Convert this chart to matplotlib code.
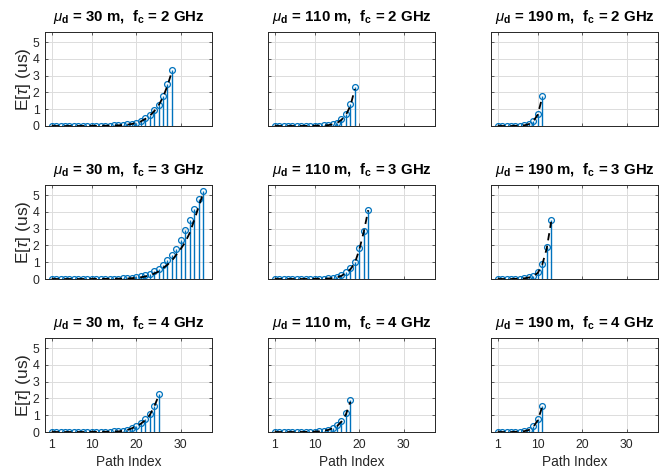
import numpy as np
import matplotlib.pyplot as plt

plt.rcParams['font.family'] = ['Liberation Sans', 'DejaVu Sans']
plt.rcParams['mathtext.fontset'] = 'custom'
plt.rcParams['mathtext.rm'] = 'Liberation Sans'
plt.rcParams['mathtext.it'] = 'Liberation Sans:italic'
plt.rcParams['mathtext.bf'] = 'Liberation Sans:bold'

distances = [30, 110, 190]   # mu_d (m), columns
freqs = [2, 3, 4]            # f_c (GHz), rows
xticks = [1, 10, 20, 30]
yticks = [0, 1, 2, 3, 4, 5]

# simulated mean delay per path (us)
sim_30_2 = [0, 0, 0, 0, 0, 0.001, 0.001, 0.002, 0.003, 0.005, 0.008, 0.012, 0.018, 0.025,
            0.035, 0.05, 0.07, 0.1, 0.14, 0.2, 0.3, 0.46, 0.64, 0.95, 1.27, 1.8, 2.5, 3.35]
sim_110_2 = [0, 0, 0, 0, 0, 0, 0.002, 0.005, 0.01, 0.015, 0.025, 0.04, 0.06, 0.12, 0.2,
             0.42, 0.73, 1.3, 2.35]
sim_190_2 = [0, 0, 0, 0, 0.01, 0.02, 0.05, 0.13, 0.31, 0.73, 1.77]
sim_30_3 = [0, 0, 0, 0, 0, 0, 0, 0.001, 0.002, 0.003, 0.004, 0.006, 0.008, 0.01, 0.015,
            0.02, 0.03, 0.05, 0.07, 0.11, 0.16, 0.23, 0.32, 0.45, 0.6, 0.85, 1.12, 1.45,
            1.8, 2.3, 2.9, 3.5, 4.2, 4.75, 5.25]
sim_110_3 = [0, 0, 0, 0, 0, 0, 0, 0.002, 0.004, 0.008, 0.012, 0.02, 0.035, 0.06, 0.12,
             0.22, 0.41, 0.63, 1.0, 1.82, 2.86, 4.14]
sim_190_3 = [0, 0, 0, 0, 0.01, 0.02, 0.05, 0.1, 0.2, 0.39, 0.9, 1.88, 3.49]
sim_30_4 = [0, 0, 0, 0, 0, 0, 0.001, 0.002, 0.003, 0.005, 0.007, 0.01, 0.015, 0.02, 0.03,
            0.04, 0.08, 0.14, 0.25, 0.38, 0.53, 0.76, 1.08, 1.57, 2.25]
sim_110_4 = [0, 0, 0, 0, 0, 0, 0.003, 0.006, 0.01, 0.02, 0.04, 0.08, 0.14, 0.25, 0.39,
             0.67, 1.12, 1.88]
sim_190_4 = [0, 0, 0, 0, 0.01, 0.02, 0.06, 0.14, 0.33, 0.76, 1.55]

# analytical curve (us)
th_30_2 = [0, 0, 0, 0, 0, 0.001, 0.001, 0.002, 0.003, 0.004, 0.006, 0.01, 0.015, 0.02,
           0.03, 0.04, 0.06, 0.08, 0.12, 0.18, 0.27, 0.42, 0.6, 0.88, 1.22, 1.72, 2.4, 3.25]
th_110_2 = [0, 0, 0, 0, 0, 0, 0.002, 0.004, 0.008, 0.012, 0.02, 0.03, 0.05, 0.1, 0.18,
            0.37, 0.66, 1.2, 2.2]
th_190_2 = [0, 0, 0, 0, 0.01, 0.02, 0.04, 0.11, 0.28, 0.68, 1.7]
th_30_3 = [0, 0, 0, 0, 0, 0, 0, 0.001, 0.001, 0.002, 0.003, 0.004, 0.006, 0.008, 0.01,
           0.015, 0.02, 0.03, 0.05, 0.07, 0.1, 0.15, 0.22, 0.32, 0.45, 0.65, 0.85, 1.1,
           1.45, 1.8, 2.2, 2.75, 3.5, 4.3, 5.1]
th_110_3 = [0, 0, 0, 0, 0, 0, 0, 0.001, 0.003, 0.006, 0.01, 0.016, 0.03, 0.05, 0.1,
            0.19, 0.36, 0.58, 0.95, 1.75, 2.8, 4.1]
th_190_3 = [0, 0, 0, 0, 0.01, 0.02, 0.04, 0.09, 0.18, 0.36, 0.85, 1.8, 3.4]
th_30_4 = [0, 0, 0, 0, 0, 0, 0.001, 0.001, 0.002, 0.004, 0.006, 0.008, 0.012, 0.016, 0.025,
           0.035, 0.07, 0.12, 0.22, 0.34, 0.49, 0.7, 1.0, 1.5, 2.15]
th_110_4 = [0, 0, 0, 0, 0, 0, 0.002, 0.005, 0.008, 0.016, 0.035, 0.07, 0.12, 0.22, 0.35,
            0.62, 1.05, 1.8]
th_190_4 = [0, 0, 0, 0, 0.01, 0.02, 0.05, 0.12, 0.3, 0.7, 1.5]

sims = [[sim_30_2, sim_110_2, sim_190_2],
        [sim_30_3, sim_110_3, sim_190_3],
        [sim_30_4, sim_110_4, sim_190_4]]
theory = [[th_30_2, th_110_2, th_190_2],
          [th_30_3, th_110_3, th_190_3],
          [th_30_4, th_110_4, th_190_4]]

blue = '#0072BD'
dark = '#262626'

fig = plt.figure(figsize=(6.6, 4.69), dpi=100)
lefts = [45 / 660, 268 / 660, 491 / 660]
bottoms = [1 - 126 / 469, 1 - 279 / 469, 1 - 432 / 469]
w, h = 167 / 660, 94 / 469

for r, fc in enumerate(freqs):
    for c, md in enumerate(distances):
        ax = fig.add_axes([lefts[c], bottoms[r], w, h])
        y = np.array(sims[r][c])
        x = np.arange(1, len(y) + 1)
        ml, sl, bl = ax.stem(x, y, linefmt='-', markerfmt='o', basefmt=' ')
        plt.setp(sl, color=blue, linewidth=1.0)
        ml.set_color(blue)
        ml.set_markerfacecolor('none')
        ml.set_markersize(4.2)
        ml.set_markeredgewidth(0.9)
        ax.plot(x, theory[r][c], '--', color='black', linewidth=1.3, dashes=(4, 3), zorder=4)

        ax.set_xlim(-0.5, 37)
        ax.set_ylim(0, 5.6)
        ax.set_xticks(xticks)
        ax.set_yticks(yticks)
        ax.grid(True, color='#dcdcdc', linewidth=0.7)
        ax.set_axisbelow(True)
        ax.tick_params(direction='in', length=2.5, width=0.5, colors=dark,
                       labelsize=8.8, top=True, right=True)
        ax.tick_params(axis='x', pad=5)
        ax.tick_params(axis='y', pad=4)
        for s in ax.spines.values():
            s.set_color(dark)
            s.set_linewidth(0.7)
        if c > 0:
            ax.set_yticklabels([])
        else:
            ax.set_ylabel(r'E[$\tau$] (us)', fontsize=12.5, color=dark, labelpad=0)
        if r < 2:
            ax.set_xticklabels([])
        else:
            ax.set_xlabel('Path Index', fontsize=9.8, color=dark, labelpad=3)
        ax.set_title(r'$\mu_\mathbf{d}$ = %d m,  f$_\mathbf{c}$ = %d GHz' % (md, fc),
                     fontsize=10.8, fontweight='bold', pad=8)

fig.savefig('out.png', dpi=100)
